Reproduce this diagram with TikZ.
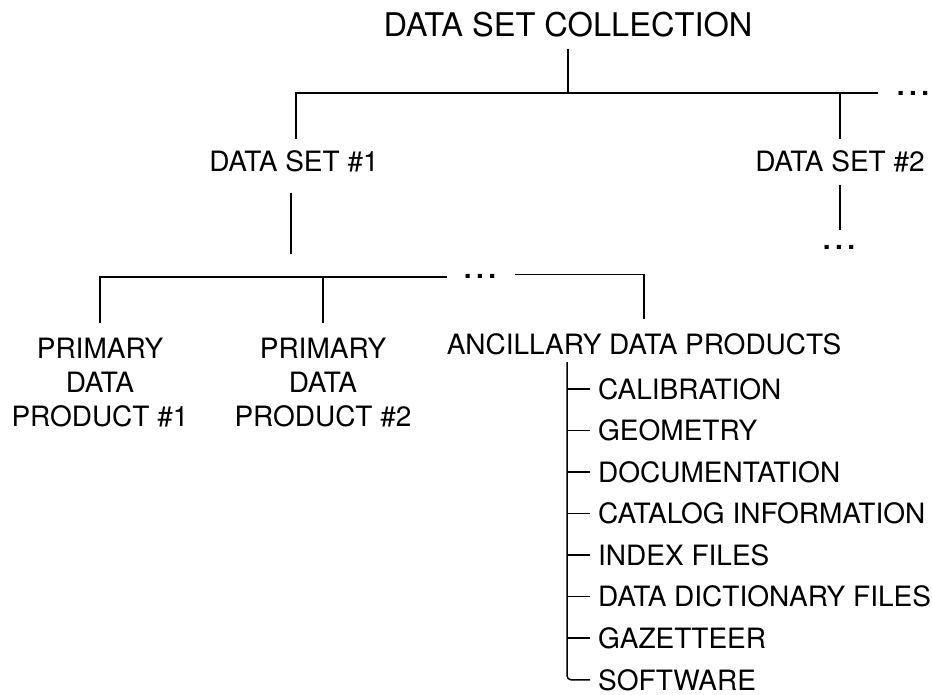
\documentclass[tikz,border=0pt]{standalone}
\usepackage{fontspec}
\setmainfont{TeX Gyre Heros}
\usetikzlibrary{calc}
\newcommand\spaceddots{{\bfseries .\kern.16em.\kern.16em.}}
\begin{document}
\begin{tikzpicture}[x=1pt,y=-1pt,
  lbl/.style={inner sep=0pt, font=\fontsize{28}{34}\selectfont},
  ttl/.style={inner sep=0pt, font=\fontsize{32.6}{38}\selectfont},
  link/.style={draw=black, line width=1.5pt},
  item/.style={lbl, anchor=base west}]
\useasboundingbox[fill=white] (0,0) rectangle (932,695);

% texts
\node[ttl, anchor=base] (coll) at (568,37) {DATA SET COLLECTION};
\node[lbl, anchor=base] (ds1) at (294,172) {DATA SET \#1};
\node[lbl, anchor=base] (ds2) at (840,172) {DATA SET \#2};
\node[lbl, anchor=base] (dotsA) at (913,95.5) {\spaceddots};
\node[lbl, anchor=base] (dotsB) at (839,249.5) {\spaceddots};
\node[lbl, anchor=base] (dotsC) at (480,279) {\spaceddots};
\node[lbl, anchor=north, align=center] (p1) at (100,338) {PRIMARY\\DATA\\PRODUCT \#1};
\node[lbl, anchor=north, align=center] (p2) at (323,338) {PRIMARY\\DATA\\PRODUCT \#2};
\node[lbl, anchor=base] (anc) at (644,354) {ANCILLARY DATA PRODUCTS};
\node[item] (i1) at (598,399) {CALIBRATION};
\node[item] (i2) at (598,440.6) {GEOMETRY};
\node[item] (i3) at (598,482.1) {DOCUMENTATION};
\node[item] (i4) at (598,523.7) {CATALOG INFORMATION};
\node[item] (i5) at (598,565.3) {INDEX FILES};
\node[item] (i6) at (598,606.9) {DATA DICTIONARY FILES};
\node[item] (i7) at (598,648.4) {GAZETTEER};
\node[item] (i8) at (598,690) {SOFTWARE};

% junction coordinates
\coordinate (topbarL) at (296,93);
\coordinate (topbarR) at (878,93);
\coordinate (ds1up) at (296,139);
\coordinate (ds2up) at (840,139);
\coordinate (ds1down) at (291,193);
\coordinate (ds1end) at (291,254);
\coordinate (ds2down) at (840,185);
\coordinate (ds2end) at (840,230);
\coordinate (botbarL) at (100,277);
\coordinate (botbarM) at (447,277);
\coordinate (botbarN) at (515,274.5);
\coordinate (botbarR) at (644,274.5);
\coordinate (spine) at (567,362);

% level 1
\draw[link] ([yshift=-11pt]coll.south) -- (coll.south |- topbarL);
\draw[link] (ds1up) -- (topbarL) -- (topbarR);
\draw[link] (ds2up |- topbarL) -- (ds2up);

% below data sets
\draw[link] (ds1down) -- (ds1end);
\draw[link] (ds2down) -- (ds2end);

% level 2
\draw[link] ([yshift=15pt]p1.north) -- (botbarL) -- (botbarM);
\draw[link] ([yshift=15pt]p2.north) -- (p2.north |- botbarL);
\draw[link] (botbarN) -- (botbarR) -- ([yshift=14pt]anc.north);

% ancillary list
\foreach \i in {1,...,7}{
  \draw[link] (spine |- i\i.west) -- ([xshift=-8pt]i\i.west);
}
\draw[link, rounded corners=4pt] (spine) -- (spine |- i8.west) -- ([xshift=-8pt]i8.west);
\end{tikzpicture}
\end{document}
